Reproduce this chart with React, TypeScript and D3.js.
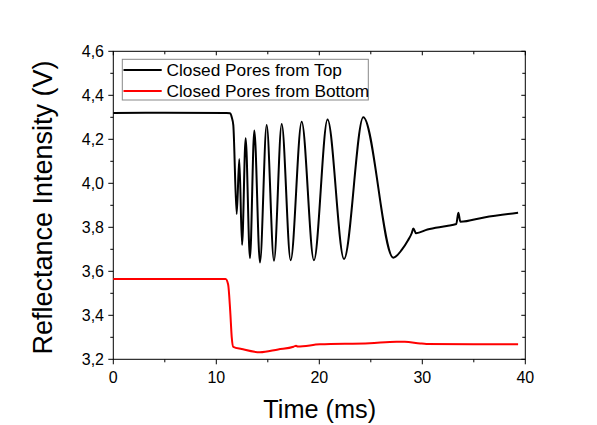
import React from "react";
import * as d3 from "d3";

const topTime = [0, 5, 11.0, 11.33, 11.5, 11.65, 11.98, 12.23, 12.5, 12.85, 13.27, 13.69, 14.24, 14.89, 15.6, 16.35, 17.22, 18.29, 19.48, 20.8, 22.4, 24.27, 27.18, 28.0, 28.6, 28.97, 29.13, 29.39, 30.5, 32.37, 33.3, 33.5, 33.7, 36, 39.3];
const topValue = [4.32, 4.321, 4.32, 4.318, 4.3, 4.265, 3.86, 4.11, 3.72, 4.205, 3.66, 4.24, 3.64, 4.265, 3.648, 4.27, 3.65, 4.28, 3.65, 4.29, 3.656, 4.3, 3.662, 3.697, 3.74, 3.773, 3.795, 3.773, 3.79, 3.806, 3.815, 3.866, 3.825, 3.845, 3.866];

const bottomTime = [0, 5, 10.9, 11.15, 11.35, 11.5, 11.65, 12.46, 14.24, 16, 17.5, 17.74, 17.9, 20.07, 24.9, 27.5, 28.3, 29.8, 30.4, 35, 39.3];
const bottomValue = [3.565, 3.565, 3.565, 3.54, 3.42, 3.3, 3.257, 3.247, 3.232, 3.245, 3.257, 3.262, 3.258, 3.268, 3.273, 3.28, 3.28, 3.272, 3.27, 3.268, 3.268];

const seriesNames = ["Closed Pores from Top", "Closed Pores from Bottom"];
const seriesColors = ["#000000", "#ff0000"];
const xMajorTicks = [0, 10, 20, 30, 40];
const xMinorTicks = [5, 15, 25, 35];
const yMajorTicks = [3.2, 3.4, 3.6, 3.8, 4.0, 4.2, 4.4, 4.6];
const yMinorTicks = [3.3, 3.5, 3.7, 3.9, 4.1, 4.3, 4.5];

const FONT = "Arial, 'Liberation Sans', sans-serif";

export default function App() {
  const left = 113.3, right = 525.3, top = 51.3, bottom = 359.3;
  const x = d3.scaleLinear().domain([0, 40]).range([left, right]);
  const y = d3.scaleLinear().domain([3.2, 4.6]).range([bottom, top]);
  const line = d3
    .line<[number, number]>()
    .x((d) => x(d[0]))
    .y((d) => y(d[1]))
    .curve(d3.curveMonotoneX);
  const topData = topTime.map((t, i) => [t, topValue[i]] as [number, number]);
  const botData = bottomTime.map((t, i) => [t, bottomValue[i]] as [number, number]);
  const fmt = (v: number) => d3.format(".1f")(v).replace(".", ",");
  const axisColor = "#000";

  return (
    <svg
      width={597}
      height={425}
      style={{ position: "absolute", left: 0, top: 0, background: "#fff" }}
    >
      <rect x={0} y={0} width={597} height={425} fill="#fff" />
      <rect x={left} y={top} width={right - left} height={bottom - top} fill="none" stroke={axisColor} strokeWidth={1} />
      {xMajorTicks.map((t) => (
        <g key={"xM" + t}>
          <line x1={x(t)} x2={x(t)} y1={bottom} y2={bottom + 5} stroke={axisColor} />
          <line x1={x(t)} x2={x(t)} y1={top} y2={top + 4} stroke={axisColor} />
          <text x={x(t)} y={383} textAnchor="middle" fontFamily={FONT} fontSize={16} fill="#000">
            {t}
          </text>
        </g>
      ))}
      {xMinorTicks.map((t) => (
        <g key={"xm" + t}>
          <line x1={x(t)} x2={x(t)} y1={bottom} y2={bottom + 3} stroke={axisColor} />
          <line x1={x(t)} x2={x(t)} y1={top} y2={top + 3} stroke={axisColor} />
        </g>
      ))}
      {yMajorTicks.map((v) => (
        <g key={"yM" + v}>
          <line x1={left - 5} x2={left} y1={y(v)} y2={y(v)} stroke={axisColor} />
          <line x1={right - 4} x2={right} y1={y(v)} y2={y(v)} stroke={axisColor} />
          <text x={104} y={y(v)} dy="0.36em" textAnchor="end" fontFamily={FONT} fontSize={16} fill="#000">
            {fmt(v)}
          </text>
        </g>
      ))}
      {yMinorTicks.map((v) => (
        <g key={"ym" + v}>
          <line x1={left - 3} x2={left} y1={y(v)} y2={y(v)} stroke={axisColor} />
          <line x1={right - 3} x2={right} y1={y(v)} y2={y(v)} stroke={axisColor} />
        </g>
      ))}
      <path d={line(botData) || ""} fill="none" stroke={seriesColors[1]} strokeWidth={2} />
      <path d={line(topData) || ""} fill="none" stroke={seriesColors[0]} strokeWidth={2} />
      <rect x={122.3} y={59.3} width={246} height={40.7} fill="#fff" stroke="#888" strokeWidth={1} />
      {seriesNames.map((name, i) => (
        <g key={name}>
          <line x1={123.5} x2={161.7} y1={70 + i * 21} y2={70 + i * 21} stroke={seriesColors[i]} strokeWidth={2} />
          <text x={166.5} y={70 + i * 21} dy="0.36em" fontFamily={FONT} fontSize={17.3} fill="#000">
            {name}
          </text>
        </g>
      ))}
      <text x={319.7} y={418} textAnchor="middle" fontFamily={FONT} fontSize={25.3} fill="#000">
        Time (ms)
      </text>
      <text
        transform={`translate(52, 207.5) rotate(-90)`}
        textAnchor="middle"
        fontFamily={FONT}
        fontSize={27}
        fill="#000"
      >
        Reflectance Intensity (V)
      </text>
    </svg>
  );
}
